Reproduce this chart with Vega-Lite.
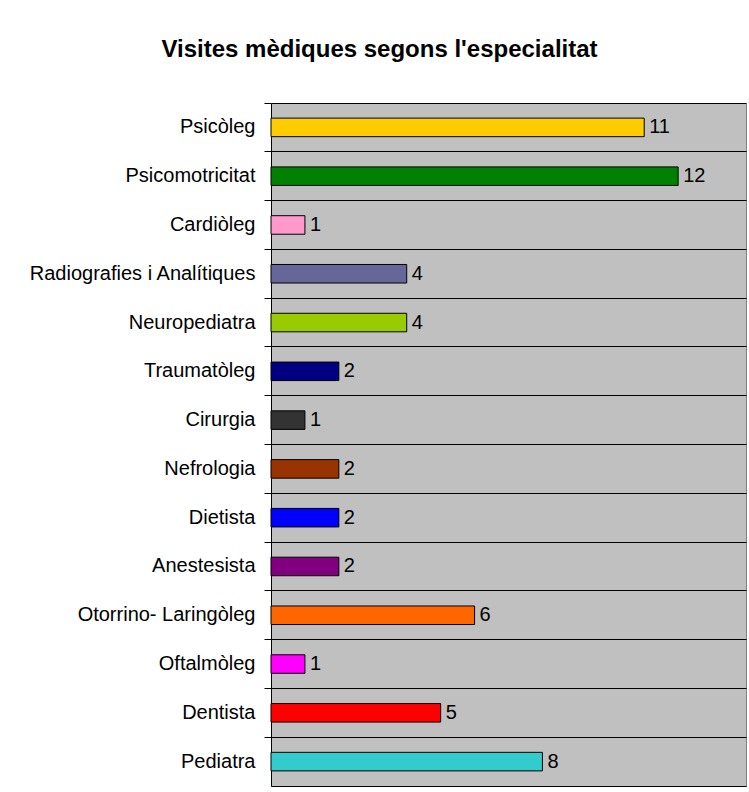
{
  "$schema": "https://vega.github.io/schema/vega-lite/v6.json",
  "autosize": "none",
  "padding": {"left": 271, "top": 103, "right": 3, "bottom": 6},
  "width": 475,
  "height": 683,
  "background": "white",
  "title": {
    "text": "Visites mèdiques segons l'especialitat",
    "font": "Liberation Sans",
    "fontSize": 24,
    "fontWeight": "bold",
    "color": "black",
    "anchor": "middle",
    "dx": -129,
    "offset": 41
  },
  "data": {
    "values": [
      {"especialitat": "Psicòleg", "visites": 11},
      {"especialitat": "Psicomotricitat", "visites": 12},
      {"especialitat": "Cardiòleg\u00a0", "visites": 1},
      {"especialitat": "Radiografies i Analítiques", "visites": 4},
      {"especialitat": "Neuropediatra", "visites": 4},
      {"especialitat": "Traumatòleg", "visites": 2},
      {"especialitat": "Cirurgia", "visites": 1},
      {"especialitat": "Nefrologia\u00a0", "visites": 2},
      {"especialitat": "Dietista", "visites": 2},
      {"especialitat": "Anestesista", "visites": 2},
      {"especialitat": "Otorrino- Laringòleg", "visites": 6},
      {"especialitat": "Oftalmòleg", "visites": 1},
      {"especialitat": "Dentista", "visites": 5},
      {"especialitat": "Pediatra\u00a0", "visites": 8}
    ]
  },
  "encoding": {
    "y": {
      "field": "especialitat",
      "type": "nominal",
      "sort": null,
      "scale": {"paddingInner": 0, "paddingOuter": 0},
      "axis": {
        "title": null,
        "bandPosition": 0,
        "grid": true,
        "gridColor": "black",
        "gridOpacity": 1,
        "gridWidth": 1,
        "domainColor": "black",
        "tickColor": "black",
        "tickSize": 7,
        "labelPadding": 9,
        "labelLimit": 400,
        "labelFont": "Liberation Sans",
        "labelFontSize": 20,
        "labelColor": "black"
      }
    },
    "x": {
      "field": "visites",
      "type": "quantitative",
      "scale": {"domain": [0, 14], "nice": false},
      "axis": {
        "title": null,
        "labels": false,
        "ticks": false,
        "grid": false,
        "domainColor": "black"
      }
    }
  },
  "layer": [
    {
      "mark": {"type": "bar", "height": {"band": 0.38}, "stroke": "black", "strokeWidth": 1},
      "encoding": {
        "color": {
          "field": "especialitat",
          "type": "nominal",
          "legend": null,
          "scale": {
            "domain": ["Psicòleg", "Psicomotricitat", "Cardiòleg\u00a0", "Radiografies i Analítiques", "Neuropediatra", "Traumatòleg", "Cirurgia", "Nefrologia\u00a0", "Dietista", "Anestesista", "Otorrino- Laringòleg", "Oftalmòleg", "Dentista", "Pediatra\u00a0"],
            "range": ["#FFCC00", "#008000", "#FF99CC", "#666699", "#99CC00", "#000080", "#333333", "#993300", "#0000FF", "#800080", "#FF6600", "#FF00FF", "#FF0000", "#33CCCC"]
          }
        }
      }
    },
    {
      "mark": {"type": "text", "align": "left", "baseline": "middle", "dx": 5, "font": "Liberation Sans", "fontSize": 20, "color": "black"},
      "encoding": {
        "text": {"field": "visites", "type": "quantitative"}
      }
    }
  ],
  "config": {
    "view": {"fill": "#C0C0C0", "stroke": "#808080", "strokeWidth": 1}
  }
}
